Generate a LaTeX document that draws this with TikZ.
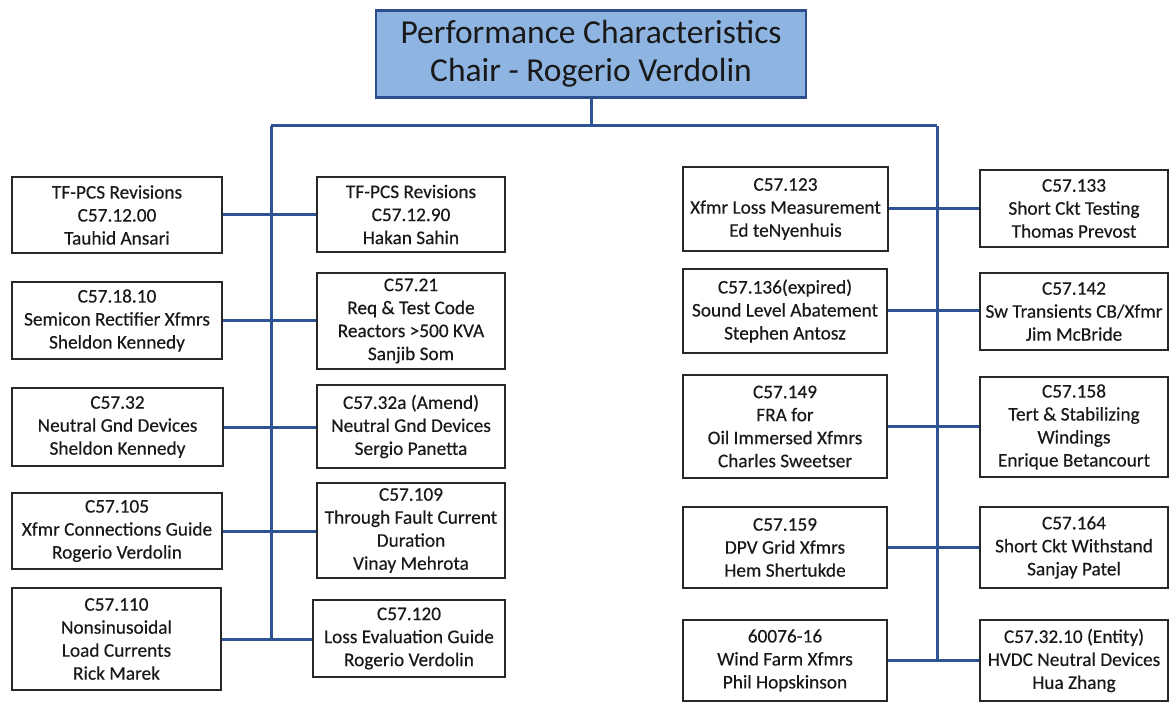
\documentclass[tikz,border=0pt]{standalone}
\usepackage{fontspec}
\setmainfont{Carlito}
\newfontfamily\boxfont[FakeBold=0.35]{Carlito}
\definecolor{linkblue}{RGB}{46,84,150}
\definecolor{headfill}{RGB}{142,180,226}
\definecolor{headedge}{RGB}{44,78,140}
\definecolor{boxedge}{RGB}{40,40,40}
\definecolor{ink}{RGB}{25,25,25}
\tikzset{
  orgbox/.style={draw=boxedge, line width=1.8pt, fill=white, inner sep=0pt,
    align=center, text=ink, font=\boxfont\fontsize{19.3}{23}\selectfont},
  headbox/.style={draw=headedge, line width=2.6pt, fill=headfill, inner sep=0pt,
    align=center, text=ink, font=\fontsize{33.5}{38}\selectfont},
  link/.style={draw=linkblue, line width=3pt}
}
% box given by its corners (x1,y1) (x2,y2), y measured downward
\newcommand\orgbox[6]{%
  \pgfmathsetmacro\cx{(#2+#4)/2}\pgfmathsetmacro\cy{(#3+#5)/2}%
  \pgfmathsetmacro\bw{#4-#2}\pgfmathsetmacro\bh{#5-#3}%
  \node[orgbox, minimum width=\bw pt, minimum height=\bh pt] (#1) at (\cx,\cy) {#6};}
\begin{document}
\begin{tikzpicture}[x=1pt,y=-1pt]
\useasboundingbox (0,0) rectangle (1170,703);
\fill[white] (0,0) rectangle (1170,703);

% chair
\node[headbox, minimum width=430pt, minimum height=87pt] (top) at (591,54)
  {Performance Characteristics\\Chair - Rogerio Verdolin};

% bus bar junctions
\coordinate (jl) at (271,126);
\coordinate (jr) at (937,126);

% left group
\orgbox{la1}{12}{177}{222}{253}{TF-PCS Revisions\\C57.12.00\\Tauhid Ansari}
\orgbox{lb1}{317}{177}{505}{252}{TF-PCS Revisions\\C57.12.90\\Hakan Sahin}
\orgbox{la2}{12}{282}{222}{359}{C57.18.10\\Semicon Rectifier Xfmrs\\Sheldon Kennedy}
\orgbox{lb2}{317}{273}{505}{369}{C57.21\\Req \& Test Code\\Reactors >500 KVA\\Sanjib Som}
\orgbox{la3}{12}{388}{223}{466}{C57.32\\Neutral Gnd Devices\\Sheldon Kennedy}
\orgbox{lb3}{317}{385}{505}{468}{C57.32a (Amend)\\Neutral Gnd Devices\\Sergio Panetta}
\orgbox{la4}{12}{493}{222}{569}{C57.105\\Xfmr Connections Guide\\Rogerio Verdolin}
\orgbox{lb4}{317}{483}{505}{578}{C57.109\\Through Fault Current\\Duration\\Vinay Mehrota}
\orgbox{la5}{12}{588}{221}{690}{C57.110\\Nonsinusoidal\\Load Currents\\Rick Marek}
\orgbox{lb5}{313}{600}{505}{677}{C57.120\\Loss Evaluation Guide\\Rogerio Verdolin}

% right group
\orgbox{ra1}{683}{167}{888}{251}{C57.123\\Xfmr Loss Measurement\\Ed teNyenhuis}
\orgbox{rb1}{980}{170}{1168}{247}{C57.133\\Short Ckt Testing\\Thomas Prevost}
\orgbox{ra2}{683}{269}{887}{353}{C57.136(expired)\\Sound Level Abatement\\Stephen Antosz}
\orgbox{rb2}{980}{273}{1168}{350}{C57.142\\Sw Transients CB/Xfmr\\Jim McBride}
\orgbox{ra3}{683}{375}{887}{478}{C57.149\\FRA for\\Oil Immersed Xfmrs\\Charles Sweetser}
\orgbox{rb3}{980}{377}{1168}{477}{C57.158\\Tert \& Stabilizing\\Windings\\Enrique Betancourt}
\orgbox{ra4}{683}{507}{887}{588}{C57.159\\DPV Grid Xfmrs\\Hem Shertukde}
\orgbox{rb4}{980}{507}{1168}{588}{C57.164\\Short Ckt Withstand\\Sanjay Patel}
\orgbox{ra5}{683}{620}{887}{701}{60076-16\\Wind Farm Xfmrs\\Phil Hopskinson}
\orgbox{rb5}{980}{620}{1168}{701}{C57.32.10 (Entity)\\HVDC Neutral Devices\\Hua Zhang}

% connectors
\draw[link] (top.south) -- (top.south |- jl);
\draw[link] (jl) -- (jr);
\draw[link] (jl) -- (jl |- la5.east);
\draw[link] (jr) -- (jr |- ra5.east);
\foreach \i in {1,...,5}{
  \draw[link] (la\i.east) -- (la\i.east -| lb\i.west);
  \draw[link] (ra\i.east) -- (ra\i.east -| rb\i.west);
}
\end{tikzpicture}
\end{document}
